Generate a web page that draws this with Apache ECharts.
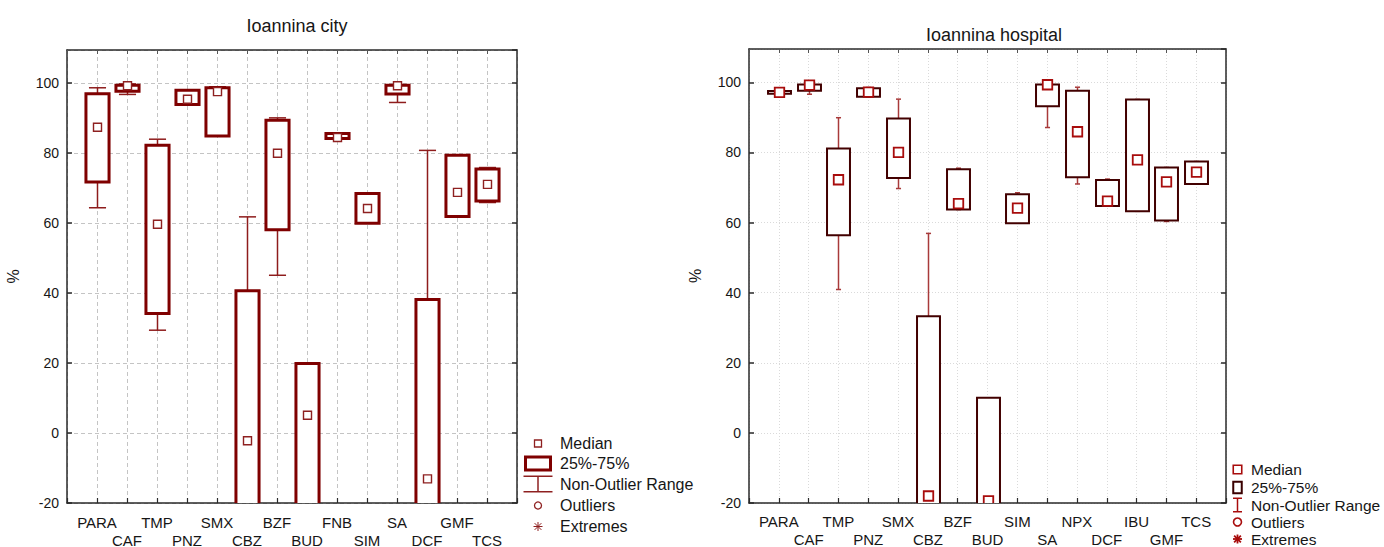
<!DOCTYPE html>
<html>
<head>
<meta charset="utf-8">
<script src="https://cdn.jsdelivr.net/npm/echarts@6/dist/echarts.min.js"></script>
<style>
  html, body { margin: 0; padding: 0; background: #fff; }
  #chart { width: 1384px; height: 547px; }
</style>
</head>
<body>
<div id="chart"></div>
<script>
// Ioannina city
var cityCats = ['PARA', 'CAF', 'TMP', 'PNZ', 'SMX', 'CBZ', 'BZF', 'BUD', 'FNB', 'SIM', 'SA', 'DCF', 'GMF', 'TCS'];
var cityMin = [64.4, 96.8, 29.4, 93.9, 84.9, -60, 45.1, -60, 84.2, 60.0, 94.5, -60, 61.9, 65.9];
var cityQ1  = [71.8, 97.7, 34.2, 93.9, 84.9, -40, 58.1, -40, 84.2, 60.0, 96.9, -40, 61.9, 66.3];
var cityMed = [87.4, 99.3, 59.7, 95.4, 97.6, -2.2, 80.0, 5.1, 84.5, 64.2, 99.3, -13.1, 68.8, 71.1];
var cityQ3  = [97.0, 99.4, 82.3, 98.0, 98.7, 40.7, 89.4, 19.9, 85.6, 68.5, 99.4, 38.2, 79.4, 75.5];
var cityMax = [98.7, 99.8, 84.0, 98.0, 99.0, 61.8, 90.1, 19.9, 85.6, 68.6, 99.6, 80.8, 79.4, 75.9];

// Ioannina hospital
var hospCats = ['PARA', 'CAF', 'TMP', 'PNZ', 'SMX', 'CBZ', 'BZF', 'BUD', 'SIM', 'SA', 'NPX', 'DCF', 'IBU', 'GMF', 'TCS'];
var hospMin = [96.3, 96.6, 40.9, 95.9, 69.7, -60, 63.7, -60, 59.8, 87.1, 71.0, 64.7, 63.2, 60.3, 71.0];
var hospQ1  = [96.7, 97.6, 56.4, 95.9, 72.7, -40, 63.7, -40, 59.8, 93.2, 72.9, 64.7, 63.2, 60.6, 71.0];
var hospMed = [97.1, 99.2, 72.2, 97.2, 80.0, -18.0, 65.4, -19.4, 64.1, 99.3, 85.9, 66.1, 77.9, 71.6, 74.4];
var hospQ3  = [97.5, 99.4, 81.1, 98.3, 89.7, 33.3, 75.2, 10.0, 68.1, 99.4, 97.6, 72.1, 95.1, 75.7, 77.4];
var hospMax = [98.0, 100.0, 89.9, 98.5, 95.2, 56.9, 75.5, 10.0, 68.5, 99.6, 98.6, 72.4, 95.1, 75.7, 77.4];

var legendNames = ['Median', '25%-75%', 'Non-Outlier Range', 'Outliers', 'Extremes'];

var FONT = '"Liberation Sans", Arial, Helvetica, sans-serif';
var INK = '#161616';

function rows(mn, q1, med, q3, mx) {
  var out = [];
  for (var i = 0; i < med.length; i++) out.push([i + 1, mn[i], q1[i], med[i], q3[i], mx[i]]);
  return out;
}

var cityStyle = { box: '#7f0000', boxLW: 3, boxW: 0.77, capW: 0.57, whisker: '#8e1c1c', whiskerW: 1.5, med: 8, medC: '#8e2020', medLW: 1.4 };
var hospStyle = { box: '#420000', boxLW: 2, boxW: 0.77, capW: 0.17, whisker: '#a83a3a', whiskerW: 1.5, med: 9.5, medC: '#a80c0c', medLW: 1.8 };

function makeRender(st) {
  return function(params, api) {
    var x = api.value(0);
    var pMin = api.coord([x, api.value(1)]);
    var pQ1 = api.coord([x, api.value(2)]);
    var pMed = api.coord([x, api.value(3)]);
    var pQ3 = api.coord([x, api.value(4)]);
    var pMax = api.coord([x, api.value(5)]);
    var unit = api.size([1, 0])[0];
    var bw = unit * st.boxW, cw = unit * st.capW;
    var cx = Math.round(pMed[0]) + 0.5;
    var ws = { stroke: st.whisker, lineWidth: st.whiskerW };
    return {
      type: 'group',
      children: [
        { type: 'line', shape: { x1: cx, y1: pMax[1], x2: cx, y2: pMin[1] }, style: ws },
        { type: 'line', shape: { x1: cx - cw / 2, y1: pMax[1], x2: cx + cw / 2, y2: pMax[1] }, style: ws },
        { type: 'line', shape: { x1: cx - cw / 2, y1: pMin[1], x2: cx + cw / 2, y2: pMin[1] }, style: ws },
        { type: 'rect', shape: { x: cx - bw / 2, y: pQ3[1], width: bw, height: pQ1[1] - pQ3[1] },
          style: { fill: '#fff', stroke: st.box, lineWidth: st.boxLW } },
        { type: 'rect', shape: { x: cx - st.med / 2, y: pMed[1] - st.med / 2, width: st.med, height: st.med },
          style: { fill: '#fff', stroke: st.medC, lineWidth: st.medLW } }
      ]
    };
  };
}

function catLabel(cats) {
  return function(v) {
    var i = Math.round(v) - 1;
    if (i < 0 || i >= cats.length) return '';
    return i % 2 === 0 ? cats[i] : '\n' + cats[i];
  };
}

function bottomAxis(gi, cats, gridLine, lh, mg) {
  return {
    type: 'value', gridIndex: gi, min: 0, max: cats.length + 1, interval: 1, position: 'bottom',
    axisLine: { onZero: false, lineStyle: { color: '#2a2a2a', width: 1.5 } },
    axisTick: { inside: true, length: 5, lineStyle: { color: '#2a2a2a', width: 1.2 } },
    axisLabel: { formatter: catLabel(cats), color: INK, fontFamily: FONT, fontSize: 15, lineHeight: lh, margin: mg, showMinLabel: true, showMaxLabel: true },
    splitLine: { show: true, lineStyle: gridLine }
  };
}
function topAxis(gi, cats) {
  return {
    type: 'value', gridIndex: gi, min: 0, max: cats.length + 1, interval: 1, position: 'top',
    axisLine: { onZero: false, lineStyle: { color: '#2a2a2a', width: 1.5 } },
    axisTick: { inside: true, length: 4, lineStyle: { color: '#555', width: 1 } },
    axisLabel: { show: false }, splitLine: { show: false }
  };
}
function leftAxis(gi, gridLine) {
  return {
    type: 'value', gridIndex: gi, min: -20, max: 109.5, interval: 20, position: 'left',
    name: '%', nameLocation: 'middle', nameGap: 46, nameRotate: 90,
    nameTextStyle: { color: INK, fontFamily: FONT, fontSize: 16 },
    axisLine: { onZero: false, lineStyle: { color: '#2a2a2a', width: 1.5 } },
    axisTick: { inside: true, length: 5, lineStyle: { color: '#2a2a2a', width: 1.5 } },
    axisLabel: { color: INK, fontFamily: FONT, fontSize: 14, margin: 8, showMaxLabel: false },
    splitLine: { show: true, lineStyle: gridLine }
  };
}
function rightAxis(gi) {
  return {
    type: 'value', gridIndex: gi, min: -20, max: 109.5, interval: 20, position: 'right',
    axisLine: { onZero: false, lineStyle: { color: '#2a2a2a', width: 1.5 } },
    axisTick: { inside: true, length: 5, lineStyle: { color: '#2a2a2a', width: 1.5 } },
    axisLabel: { show: false }, splitLine: { show: false }
  };
}

var cityGrid = { color: '#c4c4c4', type: [4, 3], width: 1 };
var hospGrid = { color: '#dadada', type: [1, 2], width: 1 };

// legend drawn by hand, STATISTICA style
function legend(x0, ys, tx, fs, c) {
  var g = [];
  var sx = x0;
  g.push({ type: 'rect', shape: { x: sx - c.sq / 2, y: ys[0] - c.sq / 2, width: c.sq, height: c.sq }, style: { fill: 'none', stroke: c.med, lineWidth: c.medLW } });
  g.push({ type: 'rect', shape: { x: sx - c.bw / 2, y: ys[1] - c.bh / 2, width: c.bw, height: c.bh }, style: { fill: 'none', stroke: c.box, lineWidth: c.boxLW } });
  var wy1 = ys[2] - c.wh / 2, wy2 = ys[2] + c.wh / 2;
  g.push({ type: 'polyline', shape: { points: [[sx - c.cw / 2, wy1], [sx + c.cw / 2, wy1]] }, style: { stroke: c.med, lineWidth: 1.5 } });
  g.push({ type: 'polyline', shape: { points: [[sx, wy1], [sx, wy2]] }, style: { stroke: c.med, lineWidth: 1.5 } });
  g.push({ type: 'polyline', shape: { points: [[sx - c.cw / 2, wy2], [sx + c.cw / 2, wy2]] }, style: { stroke: c.med, lineWidth: 1.5 } });
  g.push({ type: 'circle', shape: { cx: sx, cy: ys[3], r: c.r }, style: { fill: 'none', stroke: c.med, lineWidth: c.medLW } });
  var a = c.ast, ay = ys[4];
  [[-a, 0, a, 0], [0, -a, 0, a], [-a * 0.75, -a * 0.75, a * 0.75, a * 0.75], [-a * 0.75, a * 0.75, a * 0.75, -a * 0.75]].forEach(function(s) {
    g.push({ type: 'line', shape: { x1: sx + s[0], y1: ay + s[1], x2: sx + s[2], y2: ay + s[3] }, style: { stroke: c.med, lineWidth: c.astLW } });
  });
  legendNames.forEach(function(n, i) {
    g.push({ type: 'text', x: tx, y: ys[i], style: { text: n, fill: INK, font: fs + 'px ' + FONT, textVerticalAlign: 'middle', verticalAlign: 'middle' } });
  });
  return g;
}

var graphics = []
  .concat(legend(538, [443.5, 463.5, 484, 505.5, 526.5], 560, 16,
    { sq: 7, med: '#8e2020', medLW: 1.3, bw: 25, bh: 13, box: '#7f0000', boxLW: 3, wh: 15.5, cw: 29, r: 3.5, ast: 4.5, astLW: 1 }))
  .concat(legend(1237.5, [469.5, 487.5, 505, 522, 539], 1251, 15.5,
    { sq: 8.5, med: '#a80c0c', medLW: 1.6, bw: 8.5, bh: 11.5, box: '#3a0000', boxLW: 2, wh: 13.5, cw: 9, r: 4, ast: 4.5, astLW: 1.8 }));

var chart = echarts.init(document.getElementById('chart'), null, { renderer: 'svg' });
chart.setOption({
  animation: false,
  backgroundColor: '#fff',
  title: [
    { text: 'Ioannina city', left: 292, top: 12, textAlign: 'center', textStyle: { color: INK, fontFamily: FONT, fontSize: 18, fontWeight: 'normal' } },
    { text: 'Ioannina hospital', left: 989, top: 21, textAlign: 'center', textStyle: { color: INK, fontFamily: FONT, fontSize: 18, fontWeight: 'normal' } }
  ],
  grid: [
    { left: 67, top: 50, width: 450, height: 453, outerBoundsMode: 'none', containLabel: false },
    { left: 749, top: 49, width: 477, height: 454, outerBoundsMode: 'none', containLabel: false }
  ],
  xAxis: [bottomAxis(0, cityCats, cityGrid, 18, 10), topAxis(0, cityCats), bottomAxis(1, hospCats, hospGrid, 18, 9), topAxis(1, hospCats)],
  yAxis: [leftAxis(0, cityGrid), rightAxis(0), leftAxis(1, hospGrid), rightAxis(1)],
  series: [
    { type: 'custom', xAxisIndex: 0, yAxisIndex: 0, clip: true, renderItem: makeRender(cityStyle),
      encode: { x: 0, y: [1, 2, 3, 4, 5] }, data: rows(cityMin, cityQ1, cityMed, cityQ3, cityMax) },
    { type: 'custom', xAxisIndex: 2, yAxisIndex: 2, clip: true, renderItem: makeRender(hospStyle),
      encode: { x: 0, y: [1, 2, 3, 4, 5] }, data: rows(hospMin, hospQ1, hospMed, hospQ3, hospMax) }
  ],
  graphic: graphics
});
</script>
</body>
</html>
